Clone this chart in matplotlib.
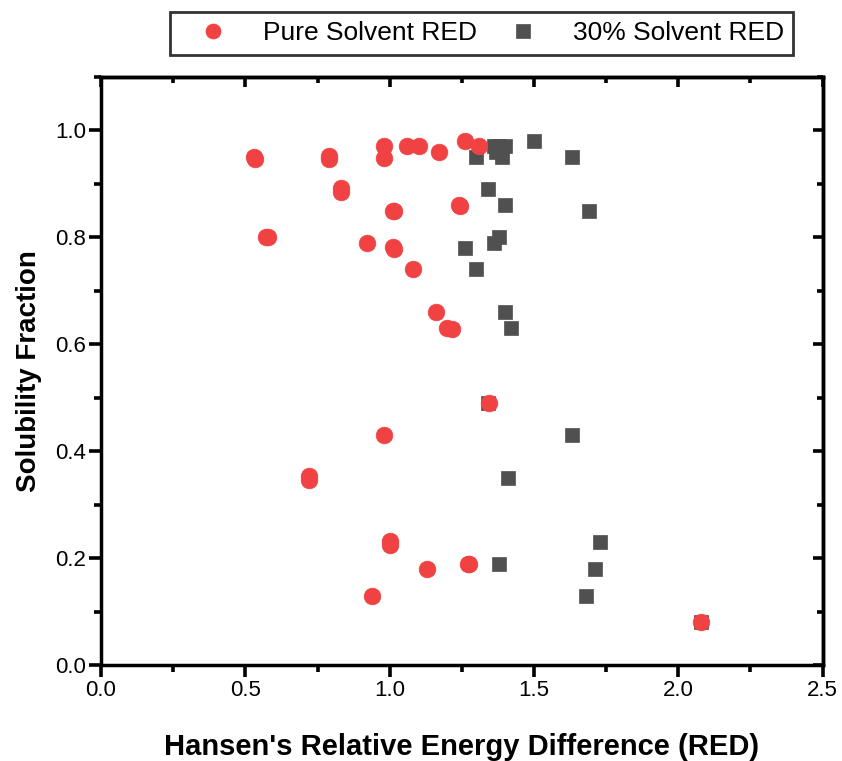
import matplotlib
matplotlib.use("Agg")
import matplotlib.pyplot as plt
from matplotlib.ticker import MultipleLocator

plt.rcParams['font.family'] = ['Liberation Sans', 'DejaVu Sans']

# Pure solvent RED vs solubility fraction
pure_red = [0.53, 0.535, 0.79, 0.79, 0.98, 0.98, 1.06, 1.10, 1.17, 1.26, 1.31,
            0.83, 0.83, 1.01, 1.015, 1.24, 1.245, 0.57, 0.58, 0.92, 1.01, 1.015, 1.08,
            1.16, 1.20, 1.215, 1.345, 0.98, 0.72, 0.72, 1.00, 1.00, 1.13, 1.27, 1.275,
            0.94, 2.08]
pure_sol = [0.95, 0.947, 0.952, 0.946, 0.97, 0.948, 0.97, 0.97, 0.96, 0.98, 0.97,
            0.892, 0.885, 0.85, 0.849, 0.86, 0.859, 0.80, 0.80, 0.79, 0.782, 0.779, 0.74,
            0.66, 0.63, 0.629, 0.49, 0.43, 0.353, 0.346, 0.232, 0.224, 0.18, 0.19, 0.19,
            0.13, 0.08]

# 30% solvent RED vs solubility fraction
mix_red = [1.30, 1.36, 1.37, 1.38, 1.40, 1.39, 1.50, 1.63, 1.34, 1.40, 1.69,
           1.26, 1.38, 1.36, 1.30, 1.40, 1.42, 1.34, 1.63, 1.41, 1.73, 1.71,
           1.38, 1.68, 2.08]
mix_sol = [0.95, 0.97, 0.96, 0.97, 0.97, 0.95, 0.98, 0.95, 0.89, 0.86, 0.85,
           0.78, 0.80, 0.79, 0.74, 0.66, 0.63, 0.49, 0.43, 0.35, 0.23, 0.18,
           0.19, 0.13, 0.08]

fig = plt.figure(figsize=(8.42, 7.61), dpi=100)
ax = fig.add_axes([0.120, 0.126, 0.857, 0.773])

ax.plot(mix_red, mix_sol, 's', color='#505050', markersize=10.5, mec='#505050',
        mew=0.5, label='30% Solvent RED', zorder=2)
ax.plot(pure_red, pure_sol, 'o', color='#F04242', markersize=12, mec='#F04242',
        mew=0.5, label='Pure Solvent RED', zorder=3)

ax.set_xlim(0, 2.5)
ax.set_ylim(0, 1.1)
ax.xaxis.set_major_locator(MultipleLocator(0.5))
ax.xaxis.set_minor_locator(MultipleLocator(0.25))
ax.yaxis.set_major_locator(MultipleLocator(0.2))
ax.yaxis.set_minor_locator(MultipleLocator(0.1))

for s in ax.spines.values():
    s.set_linewidth(2.5)

ax.tick_params(which='major', direction='out', length=8.5, width=2.6, labelsize=16,
               top=False, right=False, pad=2)
ax.tick_params(which='minor', direction='out', length=5, width=2.6,
               top=False, right=False)

# inward ticks on top and right
top = ax.secondary_xaxis('top')
top.xaxis.set_major_locator(MultipleLocator(0.5))
top.xaxis.set_minor_locator(MultipleLocator(0.25))
top.tick_params(which='major', direction='in', length=7, width=2.6, labeltop=False)
top.tick_params(which='minor', direction='in', length=4, width=2.6)
top.spines['top'].set_linewidth(2.5)

right = ax.secondary_yaxis('right')
right.yaxis.set_major_locator(MultipleLocator(0.2))
right.yaxis.set_minor_locator(MultipleLocator(0.1))
right.tick_params(which='major', direction='in', length=7, width=2.6, labelright=False)
right.tick_params(which='minor', direction='in', length=4, width=2.6)
right.spines['right'].set_linewidth(2.5)

ax.set_xlabel("Hansen's Relative Energy Difference (RED)", fontsize=21,
              fontweight='bold', labelpad=23)
ax.set_ylabel("Solubility Fraction", fontsize=20, fontweight='bold', labelpad=10)

h, l = ax.get_legend_handles_labels()
leg = fig.legend(h[::-1], l[::-1], loc='upper left', bbox_to_anchor=(0.2019, 0.984),
                 ncol=2, fontsize=19, frameon=True, fancybox=False, edgecolor='black',
                 handlelength=2.58, handletextpad=0.6, columnspacing=0.45,
                 borderpad=0.35, borderaxespad=0, markerscale=0.9)
leg.get_frame().set_linewidth(2)

fig.savefig('out.png', dpi=100)
